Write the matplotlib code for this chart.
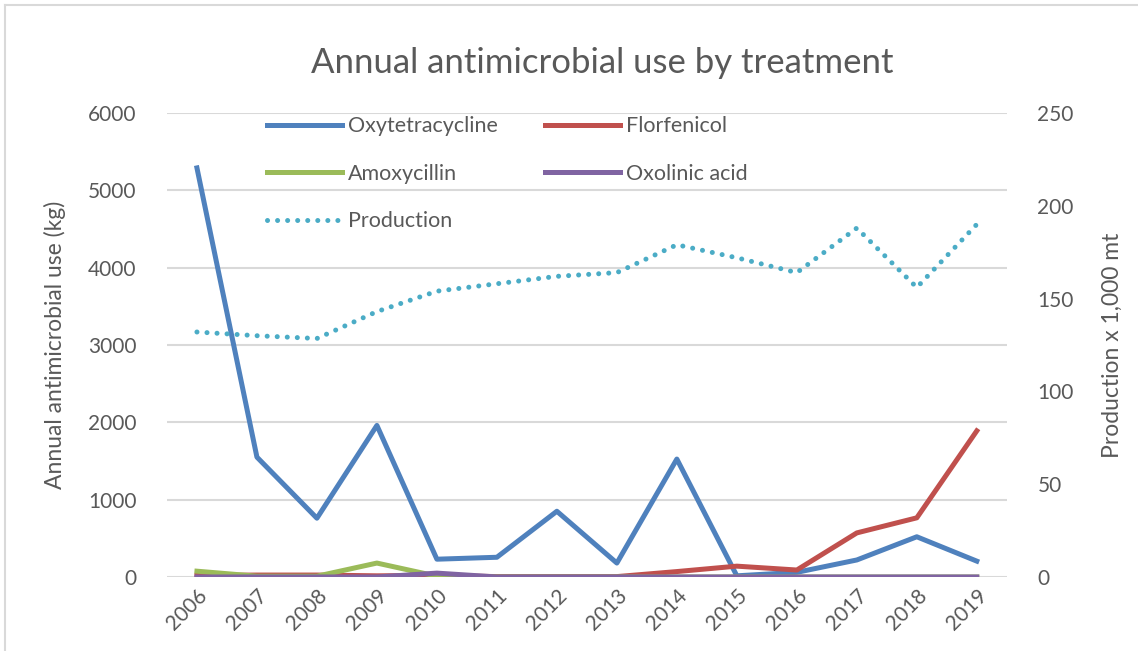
import matplotlib.pyplot as plt
from matplotlib.lines import Line2D

plt.rcParams['font.family'] = ['Lato', 'DejaVu Sans']

years = ['2006', '2007', '2008', '2009', '2010', '2011', '2012',
         '2013', '2014', '2015', '2016', '2017', '2018', '2019']
oxytetracycline = [5290, 1550, 760, 1960, 230, 255, 850, 180, 1525, 15, 60, 220, 520, 205]
florfenicol = [20, 25, 25, 15, 20, 5, 5, 5, 70, 140, 90, 570, 765, 1890]
amoxycillin = [75, 10, 10, 180, 10, 0, 0, 0, 0, 0, 0, 0, 0, 0]
oxolinic_acid = [0, 0, 0, 0, 50, 0, 0, 0, 0, 0, 0, 0, 0, 0]
production = [132, 130, 128.5, 143, 154, 158, 162, 164, 179, 172, 164, 188, 156, 190]

grey = '#595959'
fig = plt.figure(figsize=(11.38, 6.51), dpi=100)
ax = fig.add_axes([0.1467, 0.1137, 0.738, 0.7127])
ax2 = ax.twinx()

x = range(len(years))
lw = 3.6
h1, = ax.plot(x, oxytetracycline, color='#4F81BD', lw=lw, label='Oxytetracycline', zorder=3)
h2, = ax.plot(x, florfenicol, color='#C0504D', lw=lw, label='Florfenicol', zorder=3)
h3, = ax.plot(x, amoxycillin, color='#9BBB59', lw=lw, label='Amoxycillin', zorder=3)
h4, = ax.plot(x, oxolinic_acid, color='#8064A2', lw=lw, label='Oxolinic acid', zorder=3)
h5, = ax2.plot(x, production, color='#4BACC6', lw=lw, linestyle=(0, (0.01, 2)),
               dash_capstyle='round', label='Production')

ax.set_xlim(-0.5, len(years) - 0.5)
ax.set_ylim(0, 6000)
ax.set_yticks(range(0, 6001, 1000))
ax2.set_ylim(0, 250)
ax2.set_yticks(range(0, 251, 50))
ax.set_xticks(list(x))
ax.set_xticklabels(years, rotation=45, ha='right', rotation_mode='anchor')

ax.grid(axis='y', color='#D9D9D9', lw=1.5)
ax.set_axisbelow(True)
for a in (ax, ax2):
    for s in a.spines.values():
        s.set_visible(False)
    a.tick_params(length=0, colors=grey, labelsize=15)
ax.tick_params(axis='y', pad=22)
ax2.tick_params(axis='y', pad=22)
ax.tick_params(axis='x', pad=6)

ax.set_ylabel('Annual antimicrobial use (kg)', fontsize=16.5, color=grey, labelpad=16)
ax2.set_ylabel('Production x 1,000 mt', fontsize=16.5, color=grey, labelpad=20)
fig.text(0.529, 0.903, 'Annual antimicrobial use by treatment', fontsize=25,
         color=grey, ha='center', va='center')

ax2.legend(handles=[h1, h3, h5, h2, h4], ncol=2, frameon=False, fontsize=15.5,
           labelcolor=grey, loc='upper left', bbox_to_anchor=(0.096, 1.035),
           handlelength=3.5, handletextpad=0.25, columnspacing=2.2, labelspacing=1.28)

# chart border
fig.add_artist(Line2D([5 / 1138, 5 / 1138], [0, 1 - 5 / 651], transform=fig.transFigure,
                      color='#D9D9D9', lw=1.5))
fig.add_artist(Line2D([5 / 1138, 1], [1 - 5 / 651, 1 - 5 / 651], transform=fig.transFigure,
                      color='#D9D9D9', lw=1.5))

plt.savefig('out.png')
